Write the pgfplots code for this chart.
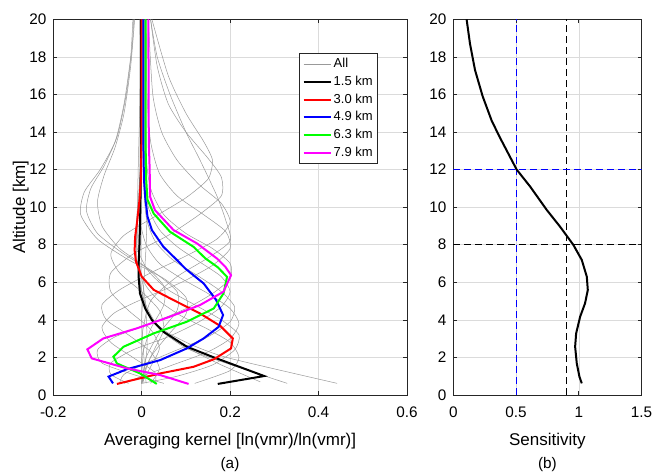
\documentclass[border=0pt]{standalone}
\usepackage{pgfplots}
\pgfplotsset{compat=1.18}
\usepackage{fontspec}
\setmainfont{Liberation Sans}

\definecolor{axgray}{gray}{0.15}
\definecolor{gridgray}{gray}{0.86}
\definecolor{kgray}{gray}{0.6}
\definecolor{mgreen}{rgb}{0,1,0}
\definecolor{mmag}{rgb}{1,0,1}
\definecolor{mblue}{rgb}{0,0,1}

\pgfplotsset{
  panel/.style={
    scale only axis, anchor=south west,
    height=375.7pt,
    ymin=0, ymax=20, ytick={0,2,...,20},
    /pgf/number format/assume math mode=true,
    axis line style={axgray, line width=0.6pt},
    tick style={axgray, line width=0.6pt},
    major tick length=4pt, tick align=inside,
    grid=major, major grid style={gridgray, line width=0.5pt},
    ticklabel style={font=\fontsize{15.3}{18}\selectfont},
    yticklabel style={anchor=east, inner sep=0pt, xshift=-6.6pt},
    xticklabel style={anchor=base, inner sep=0pt, yshift=-22.7pt},
    label style={font=\fontsize{17}{20}\selectfont},
    xlabel style={at={(axis description cs:0.5,0)}, anchor=base, yshift=-50pt},
  },
  gk/.style={kgray, line width=0.5pt, smooth, tension=0.4},
  ck/.style={line width=2pt},
}

\begin{document}
\begin{tikzpicture}
\useasboundingbox (0,0) rectangle (653pt,475pt);

\begin{axis}[panel,
  at={(53.3pt,80pt)}, width=353.7pt,
  xmin=-0.2, xmax=0.6,
  xtick={-0.2,0,0.2,0.4,0.6}, xticklabels={-0.2,0,0.2,0.4,0.6},
  xlabel={Averaging kernel [ln(vmr)/ln(vmr)]},
  ylabel={Altitude [km]},
  ylabel style={at={(axis description cs:-0.080,0.5)}, anchor=base},
  legend style={at={(0.918,0.910)}, anchor=north east,
    draw=axgray, line width=0.5pt, fill=white,
    font=\fontsize{13}{15}\selectfont, row sep=0pt,
    nodes={text height=10pt, text depth=3pt, inner ysep=2.35pt, inner xsep=2pt}},
  legend cell align=left,
  legend image code/.code={\draw[#1] (0pt,0pt) -- (27pt,0pt);},
]
% all kernels (grey)
\addplot[gk] coordinates {(0.442,0.62) (0.2,1.95) (0.12,2.6) (0.06,3.3) (0.025,4.0) (0.005,5) (-0.005,6.5) (-0.004,9) (-0.002,12) (-0.002,20)};
\addplot[gk, forget plot] coordinates {(0.329,0.62) (0.17,1.86) (0.1,2.5) (0.045,3.4) (0.015,4.3) (-0.003,5.5) (-0.008,7) (-0.005,9) (-0.002,12) (-0.002,20)};
\addplot[gk, forget plot] coordinates {(0.268,0.7) (0.18,1.6) (0.12,2.3) (0.07,3.0) (0.03,3.9) (0.008,4.9) (-0.006,6.2) (-0.006,8.5) (-0.002,12) (-0.001,20)};
\addplot[gk, forget plot] coordinates {(0.12,0.62) (0.2,1.3) (0.22,2.0) (0.2,2.8) (0.15,3.5) (0.09,4.2) (0.04,5.0) (0.01,5.8) (-0.01,7) (-0.012,8.5) (-0.006,10.5) (-0.002,13) (0,20)};
\addplot[gk, forget plot] coordinates {(0.0,0.62) (0.08,1.0) (0.16,1.6) (0.21,2.4) (0.22,3.2) (0.18,4.0) (0.12,4.8) (0.06,5.6) (0.015,6.6) (-0.01,7.8) (-0.012,9.2) (-0.006,11) (-0.001,14) (0,20)};
\addplot[gk, forget plot] coordinates {(-0.04,0.62) (0.0,1.0) (0.07,1.6) (0.15,2.3) (0.2,3.0) (0.22,3.8) (0.2,4.6) (0.15,5.4) (0.09,6.2) (0.04,7.0) (0.01,8) (-0.005,9.5) (-0.003,12) (0.001,20)};
\addplot[gk, forget plot] coordinates {(-0.05,0.62) (-0.04,1.1) (0.01,1.7) (0.08,2.4) (0.15,3.1) (0.2,3.9) (0.21,4.7) (0.18,5.5) (0.13,6.3) (0.07,7.2) (0.03,8.2) (0.01,9.5) (0.004,12) (0.004,20)};
\addplot[gk, forget plot] coordinates {(-0.03,0.62) (-0.07,1.1) (-0.07,1.7) (-0.02,2.4) (0.06,3.1) (0.13,3.9) (0.18,4.7) (0.2,5.5) (0.18,6.3) (0.13,7.1) (0.08,7.9) (0.04,8.8) (0.015,10) (0.007,12) (0.006,20)};
\addplot[gk, forget plot] coordinates {(0.05,0.62) (-0.02,1.1) (-0.09,1.7) (-0.1,2.4) (-0.06,3.1) (0.02,3.8) (0.1,4.6) (0.16,5.4) (0.2,6.2) (0.2,7.0) (0.16,7.8) (0.1,8.6) (0.05,9.6) (0.02,11) (0.01,13) (0.008,20)};
\addplot[gk, forget plot] coordinates {(0.03,0.62) (0.03,1.2) (-0.02,2.0) (-0.07,2.8) (-0.09,3.6) (-0.06,4.4) (0.01,5.2) (0.09,6.0) (0.16,6.9) (0.2,7.8) (0.19,8.7) (0.14,9.6) (0.08,10.6) (0.04,11.8) (0.02,13.5) (0.012,16) (0.01,20)};
\addplot[gk, forget plot] coordinates {(0.02,0.62) (0.04,1.4) (0.02,2.3) (-0.03,3.2) (-0.08,4.0) (-0.09,4.8) (-0.05,5.6) (0.02,6.5) (0.1,7.4) (0.17,8.3) (0.2,9.2) (0.18,10.2) (0.13,11.2) (0.08,12.5) (0.045,14) (0.025,16) (0.015,20)};
\addplot[gk, forget plot] coordinates {(0.0,0.62) (0.02,1.5) (0.04,2.5) (0.02,3.5) (-0.03,4.5) (-0.07,5.5) (-0.07,6.5) (-0.02,7.5) (0.06,8.5) (0.13,9.6) (0.18,10.6) (0.18,11.6) (0.15,12.6) (0.1,14) (0.06,15.5) (0.035,17.5) (0.02,20)};
\addplot[gk, forget plot] coordinates {(0.0,0.62) (0.01,1.5) (0.03,2.5) (0.05,3.5) (0.04,4.5) (0.0,5.5) (-0.05,6.5) (-0.07,7.5) (-0.04,8.5) (0.03,9.5) (0.1,10.5) (0.15,11.5) (0.16,12.5) (0.14,13.5) (0.1,15) (0.06,17) (0.023,20)};
\addplot[gk, forget plot] coordinates {(0.005,0.62) (0.0,3) (0.02,5) (0.08,6.3) (0.15,7.3) (0.2,8.2) (0.19,9.3) (0.17,10.6) (0.132,12.5) (0.1,14) (0.064,16) (0.035,18) (0.02,20)};
\addplot[gk, forget plot] coordinates {(0.0,0.62) (0.02,2) (0.06,3.2) (0.1,4.3) (0.1,5.2) (0.05,6.2) (-0.03,7.2) (-0.1,8.3) (-0.138,9.6) (-0.13,10.8) (-0.094,12.0) (-0.06,13.5) (-0.04,15.5) (-0.025,18) (-0.02,20)};
\addplot[gk, forget plot] coordinates {(0.0,0.62) (0.01,2) (0.04,3.3) (0.08,4.5) (0.08,5.5) (0.03,6.5) (-0.04,7.5) (-0.1,8.6) (-0.125,9.8) (-0.115,11.0) (-0.085,12.2) (-0.055,13.8) (-0.035,16) (-0.022,18.5) (-0.018,20)};
\addplot[gk, forget plot] coordinates {(0.0,0.62) (0.0,2) (0.02,3.5) (0.05,4.8) (0.05,5.8) (0.01,6.8) (-0.05,7.8) (-0.09,9.0) (-0.1,10.3) (-0.085,11.7) (-0.06,13.2) (-0.04,15) (-0.025,17.5) (-0.016,20)};
\addplot[gk, forget plot] coordinates {(0.01,0.62) (0.005,2) (0.0,4) (0.005,6) (0.01,8) (0.012,10) (0.01,13) (0.008,20)};
\addplot[gk, forget plot] coordinates {(0.0,0.62) (0.012,2.5) (0.008,5) (-0.005,7) (-0.01,9) (-0.008,12) (-0.004,16) (-0.004,20)};

% selected kernels
\addplot[ck, black] coordinates {(0.172,0.59) (0.277,1.01) (0.159,2.04) (0.102,2.57) (0.049,3.37) (0.023,3.99) (0.008,4.6) (-0.004,5.41) (-0.007,6.29) (-0.007,7.0) (-0.005,8) (-0.003,10) (-0.002,12) (-0.002,20)};
\addplot[ck, red] coordinates {(-0.056,0.59) (0.042,1.15) (0.117,1.5) (0.163,1.9) (0.202,2.48) (0.206,3.01) (0.178,3.67) (0.132,4.34) (0.072,5.05) (0.027,5.6) (0,6.3) (-0.013,7.1) (-0.016,7.7) (-0.015,8.4) (-0.01,9.3) (-0.005,10.4) (-0.002,11.4) (0,14) (0,20)};
\addplot[ck, mblue] coordinates {(-0.065,0.62) (-0.075,0.98) (-0.034,1.37) (0.042,1.86) (0.102,2.48) (0.14,3.01) (0.174,3.63) (0.184,4.26) (0.168,5.07) (0.14,5.94) (0.1,6.7) (0.076,7.27) (0.049,7.89) (0.023,8.78) (0.013,9.5) (0.008,10.5) (0.005,11.5) (0.004,13) (0.004,20)};
\addplot[ck, mgreen] coordinates {(0.034,0.59) (-0.004,1.15) (-0.056,1.68) (-0.064,2.04) (-0.041,2.57) (0.027,3.28) (0.102,3.9) (0.163,4.61) (0.185,5.41) (0.193,6.29) (0.172,6.8) (0.144,7.27) (0.117,7.89) (0.064,8.69) (0.027,9.66) (0.013,10.4) (0.01,11.5) (0.009,13) (0.009,20)};
\addplot[ck, mmag] coordinates {(0.106,0.59) (0.042,1.06) (-0.034,1.42) (-0.113,1.95) (-0.123,2.43) (-0.087,3.01) (-0.011,3.55) (0.064,4.17) (0.132,4.79) (0.185,5.5) (0.202,6.38) (0.189,6.83) (0.17,7.27) (0.125,8.07) (0.072,8.78) (0.03,9.84) (0.019,10.55) (0.018,11.97) (0.016,13.5) (0.015,20)};
\legend{All, 1.5 km, 3.0 km, 4.9 km, 6.3 km, 7.9 km}
\end{axis}

\begin{axis}[panel,
  at={(453.3pt,80pt)}, width=188.2pt,
  xmin=0, xmax=1.5,
  xtick={0,0.5,1,1.5}, xticklabels={0,0.5,1,1.5},
  xlabel={Sensitivity},
]
\addplot[black, line width=0.9pt, dash pattern=on 7pt off 4pt] coordinates {(0.9,0) (0.9,20)};
\addplot[black, line width=0.9pt, dash pattern=on 7pt off 4pt] coordinates {(0,8) (1.5,8)};
\addplot[mblue, line width=1pt, dash pattern=on 7pt off 4pt] coordinates {(0.5,0) (0.5,20)};
\addplot[black, line width=2pt] coordinates {(1.024,0.62) (1.005,0.98) (0.984,1.69) (0.971,2.57) (0.979,3.28) (1.011,4.17) (1.05,4.88) (1.072,5.59) (1.064,6.3) (1.024,7.19) (0.957,7.99) (0.851,8.96) (0.745,9.85) (0.612,11.1) (0.505,12.0) (0.372,13.7) (0.306,14.6) (0.234,15.9) (0.173,17.3) (0.133,18.7) (0.106,20)};
\addplot[draw=mblue, color=mblue, line width=1.2pt, dash pattern=on 7pt off 4pt] coordinates {(0,12) (0.5,12) (1.5,12)};
\end{axis}

\node[anchor=base, font=\fontsize{15.3}{18}\selectfont] at (230pt,7pt) {(a)};
\node[anchor=base, font=\fontsize{15.3}{18}\selectfont] at (547.4pt,7pt) {(b)};
\end{tikzpicture}
\end{document}
